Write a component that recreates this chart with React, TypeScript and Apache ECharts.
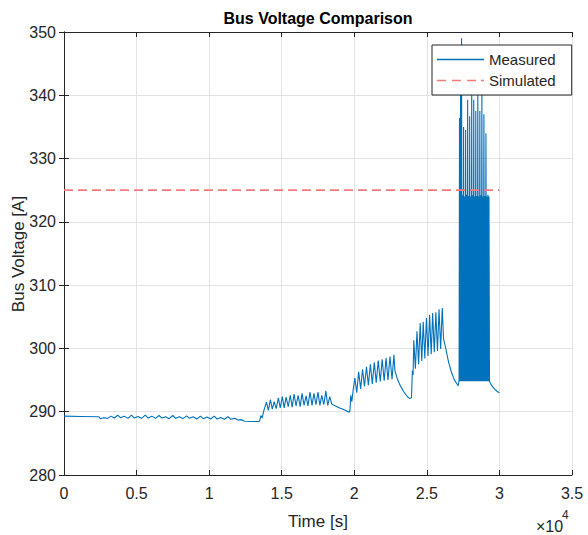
import React, { useEffect, useRef } from 'react';
import * as echarts from 'echarts';

const xTickLabels = ['0', '0.5', '1', '1.5', '2', '2.5', '3', '3.5'];
const xTickStep = 5000;
const yMin = 280;
const yMax = 350;
const yStep = 10;

const segInitial: number[][] = [
  [0, 289.3], [1200, 289.25], [2400, 289.2], [2500, 288.9],
];

const segRipple: number[][] = [
  [2750, 289.05], [3000, 288.95], [3250, 289.3], [3450, 289.0], [3700, 289.45], [3900, 289.05],
  [4150, 289.3], [4400, 288.95], [4650, 289.45], [4850, 289.0], [5100, 289.25], [5350, 288.95],
  [5600, 289.45], [5800, 289.0], [6050, 289.3], [6300, 288.95], [6550, 289.4], [6750, 289.0],
  [7000, 289.2], [7250, 288.9], [7500, 289.4], [7700, 288.95], [7950, 289.2], [8200, 288.9],
  [8450, 289.35], [8650, 288.95], [8900, 289.2], [9150, 288.85], [9400, 289.3], [9600, 288.9],
  [9850, 289.15], [10100, 288.85], [10350, 289.3], [10550, 288.85], [10800, 289.1], [11050, 288.8],
  [11300, 289.2], [11500, 288.8], [11750, 288.95], [12000, 288.7], [12200, 288.75], [12450, 288.5],
  [13000, 288.45], [13400, 288.45],
];

const segStep1: number[][] = [
  [13480, 288.5], [13560, 289.4], [13650, 289.0], [13780, 290.3], [13950, 291.5], [14080, 290.2],
  [14220, 291.9], [14350, 290.4], [14480, 291.6], [14620, 290.5], [14770, 292.2], [14900, 290.6],
  [15040, 292.4], [15170, 290.6], [15300, 292.3], [15450, 290.8], [15590, 292.6], [15720, 290.7],
  [15850, 292.8], [15990, 290.9], [16130, 292.6], [16270, 290.8], [16400, 292.9], [16540, 291.0],
  [16680, 292.5], [16810, 290.9], [16950, 293.1], [17090, 291.0], [17220, 292.9], [17360, 291.1],
  [17500, 293.1], [17630, 291.0], [17760, 292.6], [17900, 291.1], [18040, 293.3], [18170, 291.0],
  [18310, 292.4], [18450, 291.2], [18700, 290.9], [19000, 290.6], [19300, 290.3], [19650, 289.9],
];

const segStep2: number[][] = [
  [19700, 290.2], [19760, 292.6], [19830, 291.6], [19920, 293.4], [20040, 295.3], [20170, 293.0],
  [20300, 296.3], [20440, 293.6], [20570, 296.7], [20700, 294.0], [20840, 297.1], [20970, 294.2],
  [21110, 297.5], [21240, 294.4], [21380, 297.8], [21510, 294.6], [21650, 298.1], [21790, 294.8],
  [21920, 298.3], [22060, 294.9], [22190, 298.5], [22320, 295.0], [22460, 298.7], [22600, 295.1],
  [22730, 299.0], [22800, 296.5], [22950, 295.3], [23150, 294.2], [23400, 293.2], [23650, 292.4],
  [23800, 292.1], [23940, 292.2],
];

const segStep3: number[][] = [
  [24000, 296.5], [24050, 295.8], [24100, 301.3], [24210, 296.8], [24320, 302.7], [24430, 297.5],
  [24540, 304.0], [24650, 298.0], [24750, 304.2], [24860, 298.4], [24970, 304.8], [25080, 298.8],
  [25190, 305.3], [25300, 299.1], [25400, 305.6], [25510, 299.4], [25620, 305.7], [25730, 299.6],
  [25840, 306.2], [25950, 299.9], [26060, 306.4], [26150, 301.5], [26300, 300.0], [26500, 297.8],
  [26700, 296.2], [26900, 295.0], [27160, 294.1],
];

const segBurst: number[][] = [
  [27220, 295.0], [27250, 336.4], [27285, 294.8], [27320, 340.3], [27355, 294.8], [27390, 349.0],
  [27425, 294.8], [27460, 324.2], [27495, 294.8], [27530, 335.0], [27565, 294.8], [27600, 324.0],
  [27635, 294.8], [27670, 334.5], [27705, 294.8], [27740, 324.3], [27775, 294.8], [27810, 339.3],
  [27845, 294.8], [27880, 324.1], [27915, 294.8], [27950, 336.7], [27985, 294.8], [28020, 324.0],
  [28055, 294.8], [28090, 340.1], [28125, 294.8], [28160, 324.2], [28195, 294.8], [28230, 339.3],
  [28265, 294.8], [28300, 324.0], [28335, 294.8], [28370, 337.5], [28405, 294.8], [28440, 324.1],
  [28475, 294.8], [28510, 340.3], [28545, 294.8], [28580, 324.0], [28615, 294.8], [28650, 337.5],
  [28685, 294.8], [28720, 324.2], [28755, 294.8], [28790, 340.3], [28825, 294.8], [28860, 324.0],
  [28895, 294.8], [28930, 337.0], [28965, 294.8], [29000, 324.1], [29035, 294.8], [29070, 334.0],
  [29105, 294.8], [29140, 324.0], [29175, 294.8], [29210, 324.3], [29245, 294.8], [29280, 324.0],
  [29315, 294.8],
];

const segDecay: number[][] = [
  [29450, 294.2], [29650, 293.6], [29850, 293.2], [30000, 293.0],
];

const simTime = [0, 30000];
const simVoltage = [325, 325];

const FONT = 'Liberation Sans, Arial, Helvetica, sans-serif';
const INK = '#262626';
const BLUE = '#0072BD';
const PINK = '#F47C7C';

const ICON_SOLID = 'path://M0,0H47V1.3H0Z';
const ICON_DASHED = 'path://M0,0H9V1.8H0Z M15,0H24V1.8H15Z M30,0H39V1.8H30Z M44,0H47V1.8H44Z';

export default function App() {
  const ref = useRef<HTMLDivElement>(null);
  useEffect(() => {
    const chart = echarts.init(ref.current!, null, { renderer: 'svg' });
    const measured = [
      ...segInitial, ...segRipple, ...segStep1, ...segStep2, ...segStep3, ...segBurst, ...segDecay,
    ];
    const simulated = simTime.map((t, i) => [t, simVoltage[i]]);
    const xMax = xTickStep * (xTickLabels.length - 1);
    const axisCommon = {
      axisLine: { show: true, lineStyle: { color: INK, width: 1 } },
      axisTick: { show: true, inside: true, length: 5, lineStyle: { color: INK } },
    };
    chart.setOption({
      animation: false,
      backgroundColor: '#ffffff',
      textStyle: { fontFamily: FONT },
      grid: { left: 64, right: 16, top: 32, bottom: 60, containLabel: false },
      xAxis: [
        {
          type: 'value', min: 0, max: xMax, interval: xTickStep, position: 'bottom',
          ...axisCommon,
          axisLabel: {
            color: INK, fontSize: 16, fontFamily: FONT, margin: 10,
            formatter: (v: number) => xTickLabels[Math.round(v / xTickStep)] ?? '',
          },
          splitLine: { show: true, lineStyle: { color: '#E3E3E3', width: 1 } },
        },
        {
          type: 'value', min: 0, max: xMax, interval: xTickStep, position: 'top',
          ...axisCommon, axisLabel: { show: false }, splitLine: { show: false },
        },
      ],
      yAxis: [
        {
          type: 'value', min: yMin, max: yMax, interval: yStep, position: 'left',
          ...axisCommon,
          axisLabel: { color: INK, fontSize: 16, fontFamily: FONT, margin: 8 },
          splitLine: { show: true, lineStyle: { color: '#E3E3E3', width: 1 } },
        },
        {
          type: 'value', min: yMin, max: yMax, interval: yStep, position: 'right',
          ...axisCommon, axisLabel: { show: false }, splitLine: { show: false },
        },
      ],
      legend: {
        orient: 'vertical', left: 432, top: 45,
        data: [
          { name: 'Measured', icon: ICON_SOLID, itemStyle: { color: BLUE } },
          { name: 'Simulated', icon: ICON_DASHED, itemStyle: { color: PINK } },
        ],
        symbolKeepAspect: false,
        itemWidth: 47, itemHeight: 1.6, itemGap: 6,
        padding: [7, 16, 7, 5],
        backgroundColor: '#ffffff', borderColor: INK, borderWidth: 1, borderRadius: 0,
        textStyle: { color: INK, fontSize: 15, fontFamily: FONT, lineHeight: 15 },
      },
      graphic: [
        {
          type: 'text', x: 318, y: 18,
          style: { text: 'Bus Voltage Comparison', fill: '#000', font: `bold 16px ${FONT}`, align: 'center', verticalAlign: 'middle' },
        },
        {
          type: 'text', x: 318, y: 521,
          style: { text: 'Time [s]', fill: INK, font: `17px ${FONT}`, align: 'center', verticalAlign: 'middle' },
        },
        {
          type: 'text', x: 18, y: 254, rotation: Math.PI / 2,
          style: { text: 'Bus Voltage [A]', fill: INK, font: `17px ${FONT}`, align: 'center', verticalAlign: 'middle' },
        },
        {
          type: 'text', x: 536, y: 526,
          style: { text: '×10', fill: INK, font: `16px ${FONT}`, align: 'left', verticalAlign: 'middle' },
        },
        {
          type: 'text', x: 562, y: 515,
          style: { text: '4', fill: INK, font: `12px ${FONT}`, align: 'left', verticalAlign: 'middle' },
        },
      ],
      series: [
        {
          name: 'Measured', type: 'line', data: measured, symbol: 'none', showSymbol: false,
          lineStyle: { color: BLUE, width: 1.1 }, itemStyle: { color: BLUE },
          xAxisIndex: 0, yAxisIndex: 0, z: 2,
        },
        {
          name: 'Simulated', type: 'line', data: simulated, symbol: 'none', showSymbol: false,
          lineStyle: { color: PINK, width: 1.8, type: [9, 5] }, itemStyle: { color: PINK },
          xAxisIndex: 0, yAxisIndex: 0, z: 3,
        },
      ],
    });
    return () => chart.dispose();
  }, []);
  return (
    <div
      ref={ref}
      style={{ position: 'fixed', left: 0, top: 0, width: 588, height: 535, background: '#fff' }}
    />
  );
}
